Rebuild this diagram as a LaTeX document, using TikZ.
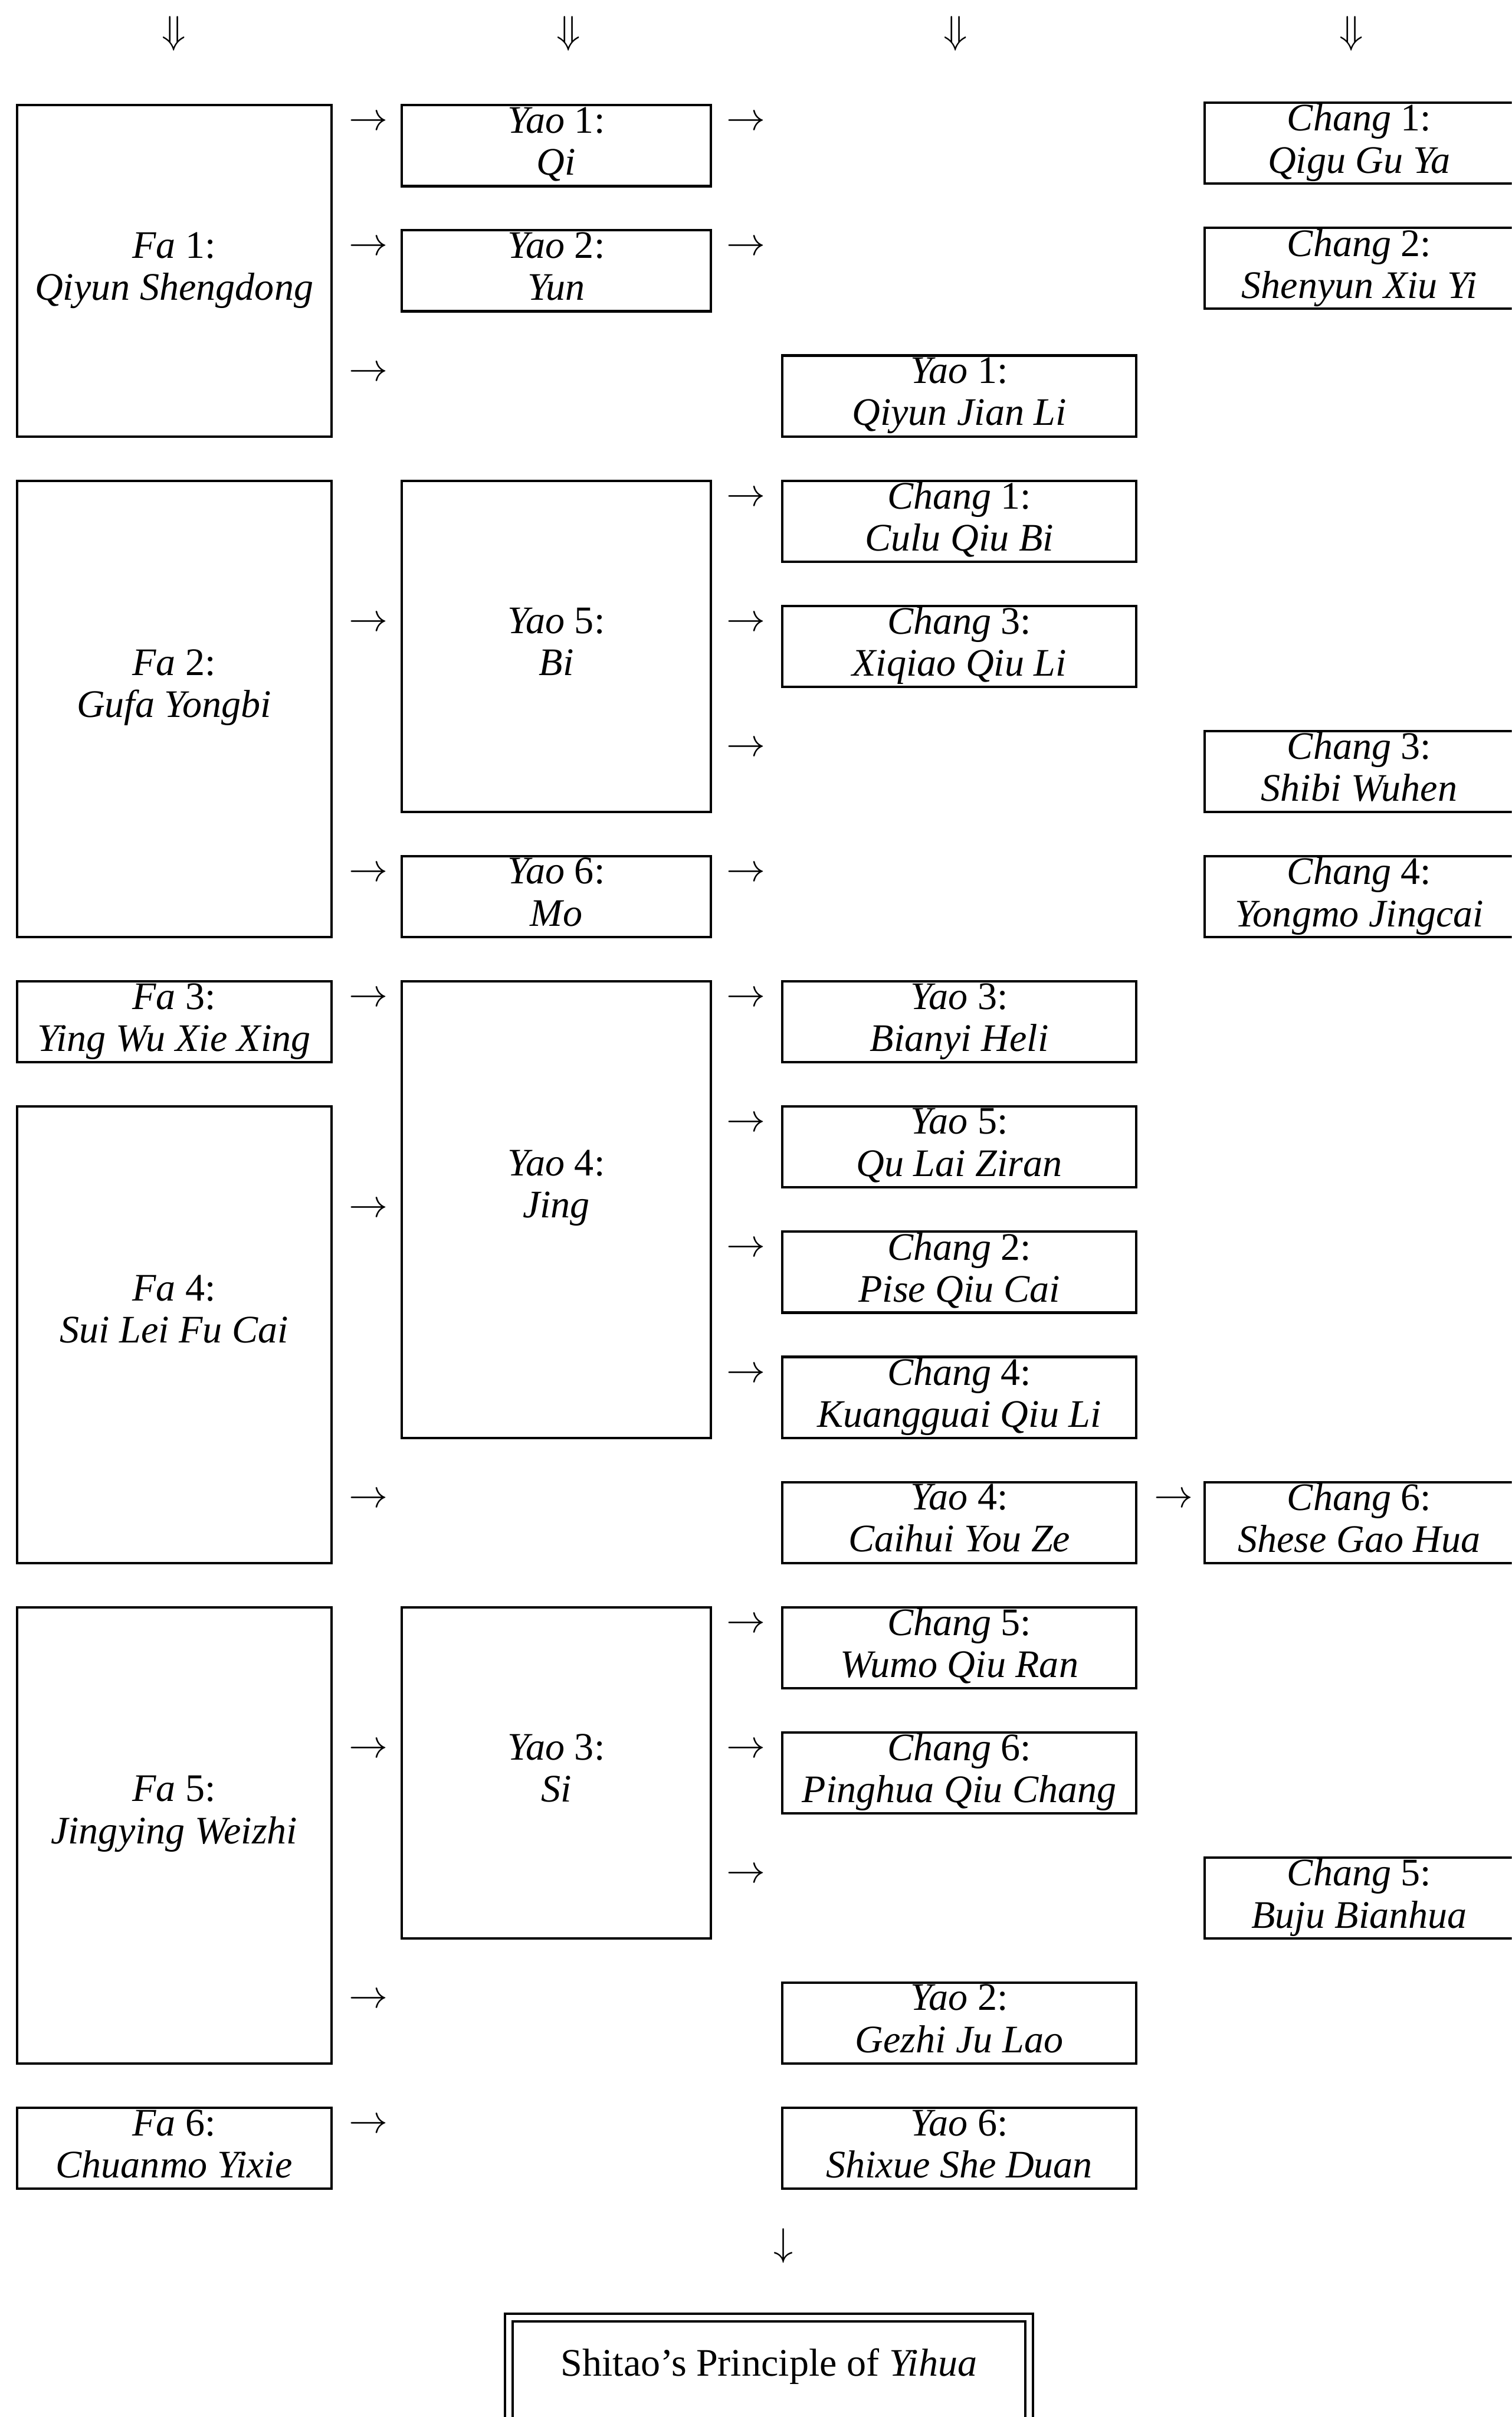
\documentclass[tikz,border=0pt]{standalone}
\usepackage{fontspec}
\setmainfont{Liberation Serif}
\newcommand{\boxlab}[3]{\textit{#1} #2:\\\textit{#3}}

\begin{document}
\begin{tikzpicture}[
  x=0.2mm, y=-16.24mm,
  bx/.style={draw,line width=0.9pt,inner sep=0pt,align=center,
    minimum height=1.05cm,text depth=3.5pt,
    font=\fontsize{14.4}{15.5}\selectfont},
  fabox/.style={bx,minimum width=4.08cm},
  yaobox/.style={bx,minimum width=4.01cm},
  midbox/.style={bx,minimum width=4.59cm},
  endbox/.style={bx,minimum width=4.01cm},
  nrows/.style={minimum height=#1*1.624cm-0.574cm},
  lift/.style={text depth=19pt},
  arr/.style={inner sep=0pt,font=\fontsize{14}{14}\selectfont},
  principle/.style={draw,line width=0.9pt,double,double distance=2pt,
    inner sep=0pt,minimum width=6.75cm,text height=0.76cm,text depth=0.69cm,
    font=\fontsize{14.4}{15.5}\selectfont}
]
  \path[use as bounding box,clip] (0,-1.1638) rectangle (981,18.146);

  \foreach \x [count=\i] in {113,369,620,877}
    {\node[arr] (top\i) at (\x,-0.893) {$\Downarrow$};}

  \node[fabox,nrows=3] (fa1) at (113,1) {\boxlab{Fa}{1}{Qiyun Shengdong}};
  \node[fabox,nrows=4,lift] (fa2) at (113,4.5) {\boxlab{Fa}{2}{Gufa Yongbi}};
  \node[fabox] (fa3) at (113,7) {\boxlab{Fa}{3}{Ying Wu Xie Xing}};
  \node[fabox,nrows=4,lift] (fa4) at (113,9.5) {\boxlab{Fa}{4}{Sui Lei Fu Cai}};
  \node[fabox,nrows=4,lift] (fa5) at (113,13.5) {\boxlab{Fa}{5}{Jingying Weizhi}};
  \node[fabox] (fa6) at (113,16) {\boxlab{Fa}{6}{Chuanmo Yixie}};

  \node[yaobox] (yqi) at (361,0) {\boxlab{Yao}{1}{Qi}};
  \node[yaobox] (yyun) at (361,1) {\boxlab{Yao}{2}{Yun}};
  \node[yaobox,nrows=3] (ybi) at (361,4) {\boxlab{Yao}{5}{Bi}};
  \node[yaobox] (ymo) at (361,6) {\boxlab{Yao}{6}{Mo}};
  \node[yaobox,nrows=4,lift] (yjing) at (361,8.5) {\boxlab{Yao}{4}{Jing}};
  \node[yaobox,nrows=3] (ysi) at (361,13) {\boxlab{Yao}{3}{Si}};

  \node[midbox] (jianli) at (622.5,2) {\boxlab{Yao}{1}{Qiyun Jian Li}};
  \node[midbox] (culu) at (622.5,3) {\boxlab{Chang}{1}{Culu Qiu Bi}};
  \node[midbox] (xiqiao) at (622.5,4) {\boxlab{Chang}{3}{Xiqiao Qiu Li}};
  \node[midbox] (bianyi) at (622.5,7) {\boxlab{Yao}{3}{Bianyi Heli}};
  \node[midbox] (qulai) at (622.5,8) {\boxlab{Yao}{5}{Qu Lai Ziran}};
  \node[midbox] (pise) at (622.5,9) {\boxlab{Chang}{2}{Pise Qiu Cai}};
  \node[midbox] (kuang) at (622.5,10) {\boxlab{Chang}{4}{Kuangguai Qiu Li}};
  \node[midbox] (caihui) at (622.5,11) {\boxlab{Yao}{4}{Caihui You Ze}};
  \node[midbox] (wumo) at (622.5,12) {\boxlab{Chang}{5}{Wumo Qiu Ran}};
  \node[midbox] (pinghua) at (622.5,13) {\boxlab{Chang}{6}{Pinghua Qiu Chang}};
  \node[midbox] (gezhi) at (622.5,15) {\boxlab{Yao}{2}{Gezhi Ju Lao}};
  \node[midbox] (shixue) at (622.5,16) {\boxlab{Yao}{6}{Shixue She Duan}};

  \node[endbox] (qigu) at (882,-0.02) {\boxlab{Chang}{1}{Qigu Gu Ya}};
  \node[endbox] (shenyun) at (882,0.98) {\boxlab{Chang}{2}{Shenyun Xiu Yi}};
  \node[endbox] (shibi) at (882,5) {\boxlab{Chang}{3}{Shibi Wuhen}};
  \node[endbox] (yongmo) at (882,6) {\boxlab{Chang}{4}{Yongmo Jingcai}};
  \node[endbox] (shese) at (882,11) {\boxlab{Chang}{6}{Shese Gao Hua}};
  \node[endbox] (buju) at (882,14) {\boxlab{Chang}{5}{Buju Bianhua}};

  \foreach \r in {0,1,2,4,6,7,11,13,15,16}
    {\node[arr] (fy\r) at (239,\r-0.18) {$\rightarrow$};}
  \node[arr] (fyjing) at (239,8.5) {$\rightarrow$};
  \foreach \r in {0,1,3,4,5,6,7,8,9,10,12,13,14}
    {\node[arr] (yc\r) at (484,\r-0.18) {$\rightarrow$};}
  \node[arr] (cc11) at (761.5,11-0.18) {$\rightarrow$};

  \node[arr] (dn) at (508.5,16.78) {$\downarrow$};
  \node[principle,anchor=base] (yihua) at (499,17.82)
    {Shitao’s Principle of \textit{Yihua}};
\end{tikzpicture}
\end{document}
